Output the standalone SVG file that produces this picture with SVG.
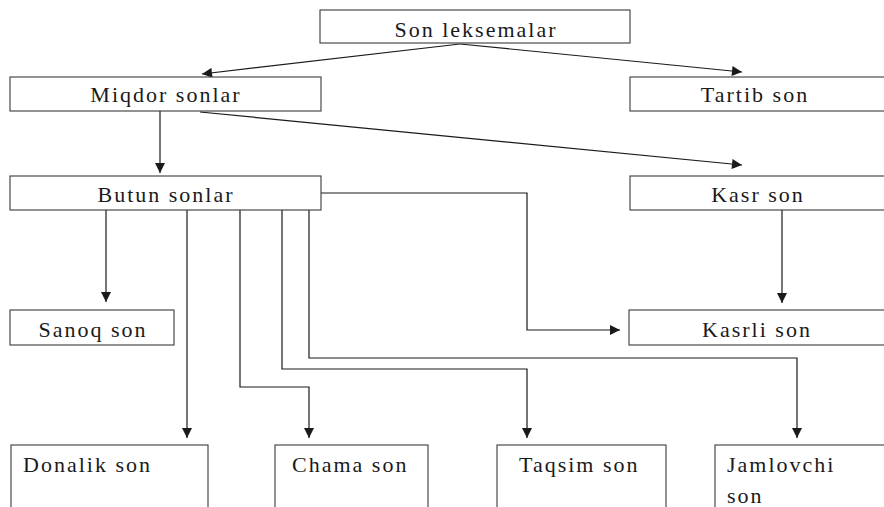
<svg xmlns="http://www.w3.org/2000/svg" width="884" height="507" viewBox="0 0 884 507">
<defs>
<marker id="ah" viewBox="0 0 10 10" refX="10" refY="5" markerWidth="12" markerHeight="10" markerUnits="userSpaceOnUse" orient="auto">
<path d="M0,0 L10,5 L0,10 z" fill="#1a1a1a"/>
</marker>
<style>
.box{fill:#ffffff;stroke:#3a3a3a;stroke-width:1.1}
.t{font-family:"Liberation Serif","Times New Roman","DejaVu Serif",serif;font-size:22px;fill:#1a1a1a;letter-spacing:2px}
.c{text-anchor:middle}
.ln{fill:none;stroke:#1a1a1a;stroke-width:1.2}
.ar{marker-end:url(#ah)}
</style>
</defs>
<rect width="884" height="507" fill="#ffffff"/>
<g id="connectors">
<path class="ln ar" d="M460,44 L202,74"/>
<path class="ln ar" d="M460,44 L742,72"/>
<path class="ln ar" d="M160,111 L160,173"/>
<path class="ln ar" d="M200,112 L742,165"/>
<path class="ln ar" d="M321,193 L527,193 L527,330 L620,330"/>
<path class="ln ar" d="M106,210 L106,302"/>
<path class="ln ar" d="M187,210 L187,438"/>
<path class="ln ar" d="M240,210 L240,387 L309,387 L309,438"/>
<path class="ln ar" d="M282,210 L282,369 L527,369 L527,438"/>
<path class="ln ar" d="M309,210 L309,358 L797,358 L797,438"/>
<path class="ln ar" d="M782,210 L782,303"/>
</g>
<g id="n-son-leksemalar">
<rect class="box" x="320" y="10" width="310" height="33"/>
<text class="t c" x="476" y="37">Son leksemalar</text>
</g>
<g id="n-miqdor-sonlar">
<rect class="box" x="10" y="77" width="311" height="34"/>
<text class="t c" x="166" y="102">Miqdor sonlar</text>
</g>
<g id="n-tartib-son">
<rect class="box" x="630" y="77" width="260" height="34"/>
<text class="t c" x="755" y="102">Tartib son</text>
</g>
<g id="n-butun-sonlar">
<rect class="box" x="10" y="176" width="311" height="34"/>
<text class="t c" x="166" y="202">Butun sonlar</text>
</g>
<g id="n-kasr-son">
<rect class="box" x="630" y="176" width="260" height="34"/>
<text class="t c" x="758" y="202">Kasr son</text>
</g>
<g id="n-sanoq-son">
<rect class="box" x="10" y="310" width="164" height="35"/>
<text class="t c" x="93" y="337">Sanoq son</text>
</g>
<g id="n-kasrli-son">
<rect class="box" x="629" y="310" width="260" height="35"/>
<text class="t c" x="757" y="337">Kasrli son</text>
</g>
<g id="n-donalik-son">
<rect class="box" x="11" y="445" width="197" height="80"/>
<text class="t" x="23" y="472">Donalik son</text>
</g>
<g id="n-chama-son">
<rect class="box" x="275" y="445" width="153" height="80"/>
<text class="t" x="292" y="472">Chama son</text>
</g>
<g id="n-taqsim-son">
<rect class="box" x="497" y="445" width="169" height="80"/>
<text class="t" x="519" y="472">Taqsim son</text>
</g>
<g id="n-jamlovchi-son">
<rect class="box" x="715" y="445" width="175" height="80"/>
<text class="t" x="727" y="472">Jamlovchi</text>
<text class="t" x="727" y="503">son</text>
</g>
</svg>
